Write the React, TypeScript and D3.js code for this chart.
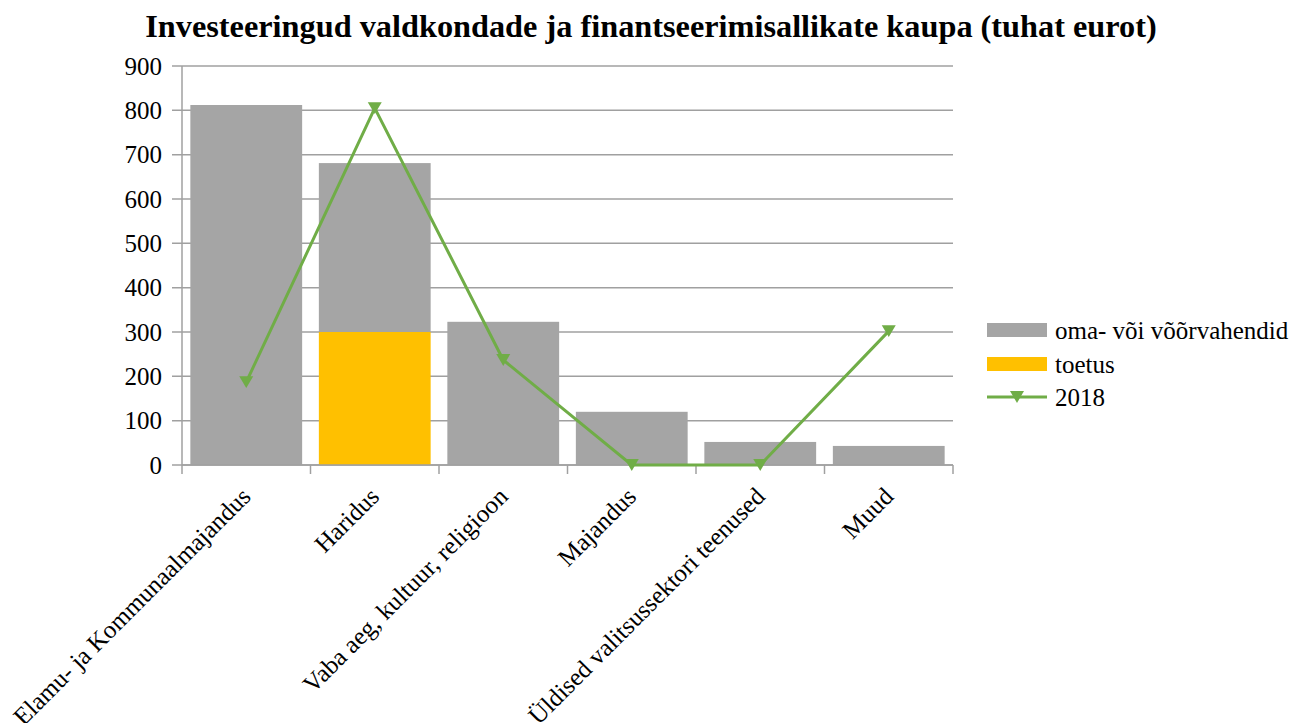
import React from 'react';
import * as d3 from 'd3';

// Chart data (tuhat eurot)
const categories = [
  'Elamu- ja Kommunaalmajandus',
  'Haridus',
  'Vaba aeg, kultuur, religioon',
  'Majandus',
  'Üldised valitsussektori teenused',
  'Muud',
];
const omaVahendid = [812, 381, 323, 120, 52, 43];
const toetus = [0, 300, 0, 0, 0, 0];
const line2018 = [187, 805, 237, 0, 0, 302];
const yTicks = [0, 100, 200, 300, 400, 500, 600, 700, 800, 900];

const WIDTH = 1307;
const HEIGHT = 723;
const FONT = "'Liberation Serif', 'Times New Roman', serif";

const GRAY = '#A5A5A5';
const YELLOW = '#FFC000';
const GREEN = '#70AD47';
const AXIS = '#A0A0A0';

const plot = { left: 182, right: 953, top: 66, bottom: 465 };

export default function App() {
  const x = d3
    .scaleBand<string>()
    .domain(categories)
    .range([plot.left, plot.right])
    .paddingInner(0.13)
    .paddingOuter(0.065);
  const xPoint = (i: number) => x(categories[i])! + x.bandwidth() / 2;
  const y = d3.scaleLinear().domain([0, 900]).range([plot.bottom, plot.top]);

  const step = (plot.right - plot.left) / categories.length;
  const boundaries = d3.range(categories.length + 1).map(i => plot.left + i * step);

  const lineGen = d3
    .line<number>()
    .x((_, i) => xPoint(i))
    .y(d => y(d));

  // downward triangle marker
  const tri = (cx: number, cy: number, s = 7) =>
    `M${cx - s},${cy - s * 0.85}L${cx + s},${cy - s * 0.85}L${cx},${cy + s * 0.85}Z`;

  const txt = { fontFamily: FONT };

  return (
    <svg
      width={WIDTH}
      height={HEIGHT}
      style={{ position: 'absolute', left: 0, top: 0, background: '#fff', fontFamily: FONT }}
    >
      <text x={651} y={37} textAnchor="middle" fontSize={32.3} fontWeight="bold" fill="#000" style={txt}>
        Investeeringud valdkondade ja finantseerimisallikate kaupa (tuhat eurot)
      </text>

      {/* gridlines + y ticks */}
      {yTicks.map(t => (
        <g key={t}>
          <line x1={plot.left - 10} x2={plot.right} y1={y(t)} y2={y(t)} stroke={AXIS} strokeWidth={1.5} />
          <text x={162} y={y(t)} dy="0.35em" textAnchor="end" fontSize={25} fill="#000" style={txt}>
            {t}
          </text>
        </g>
      ))}
      <line x1={plot.left} x2={plot.left} y1={plot.top} y2={plot.bottom} stroke={AXIS} strokeWidth={1.5} />

      {/* bars: toetus at bottom, oma- või võõrvahendid stacked on top */}
      {categories.map((c, i) => (
        <g key={c}>
          <rect x={x(c)} width={x.bandwidth()} y={y(toetus[i])} height={y(0) - y(toetus[i])} fill={YELLOW} />
          <rect
            x={x(c)}
            width={x.bandwidth()}
            y={y(toetus[i] + omaVahendid[i])}
            height={y(toetus[i]) - y(toetus[i] + omaVahendid[i])}
            fill={GRAY}
          />
        </g>
      ))}

      {/* x axis */}
      <line x1={plot.left} x2={plot.right} y1={plot.bottom} y2={plot.bottom} stroke={AXIS} strokeWidth={1.5} />
      {boundaries.map((b, i) => (
        <line key={i} x1={b} x2={b} y1={plot.bottom} y2={plot.bottom + 9} stroke={AXIS} strokeWidth={1.5} />
      ))}
      {categories.map((c, i) => (
        <text
          key={c}
          transform={`translate(${xPoint(i) + 6},${plot.bottom + 33}) rotate(-45)`}
          textAnchor="end"
          fontSize={25}
          fill="#000"
          style={txt}
        >
          {c}
        </text>
      ))}

      {/* 2018 line */}
      <path d={lineGen(line2018) || ''} fill="none" stroke={GREEN} strokeWidth={3} />
      {line2018.map((v, i) => (
        <path key={i} d={tri(xPoint(i), y(v))} fill={GREEN} />
      ))}

      {/* legend */}
      <g fontSize={25} fill="#000" style={txt}>
        <rect x={987} y={323} width={60} height={14} fill={GRAY} />
        <text x={1055} y={330} dy="0.35em">oma- või võõrvahendid</text>
        <rect x={987} y={357} width={60} height={14} fill={YELLOW} />
        <text x={1055} y={364} dy="0.35em">toetus</text>
        <line x1={987} x2={1047} y1={397} y2={397} stroke={GREEN} strokeWidth={3} />
        <path d={tri(1017, 397)} fill={GREEN} />
        <text x={1055} y={397} dy="0.35em">2018</text>
      </g>
    </svg>
  );
}
